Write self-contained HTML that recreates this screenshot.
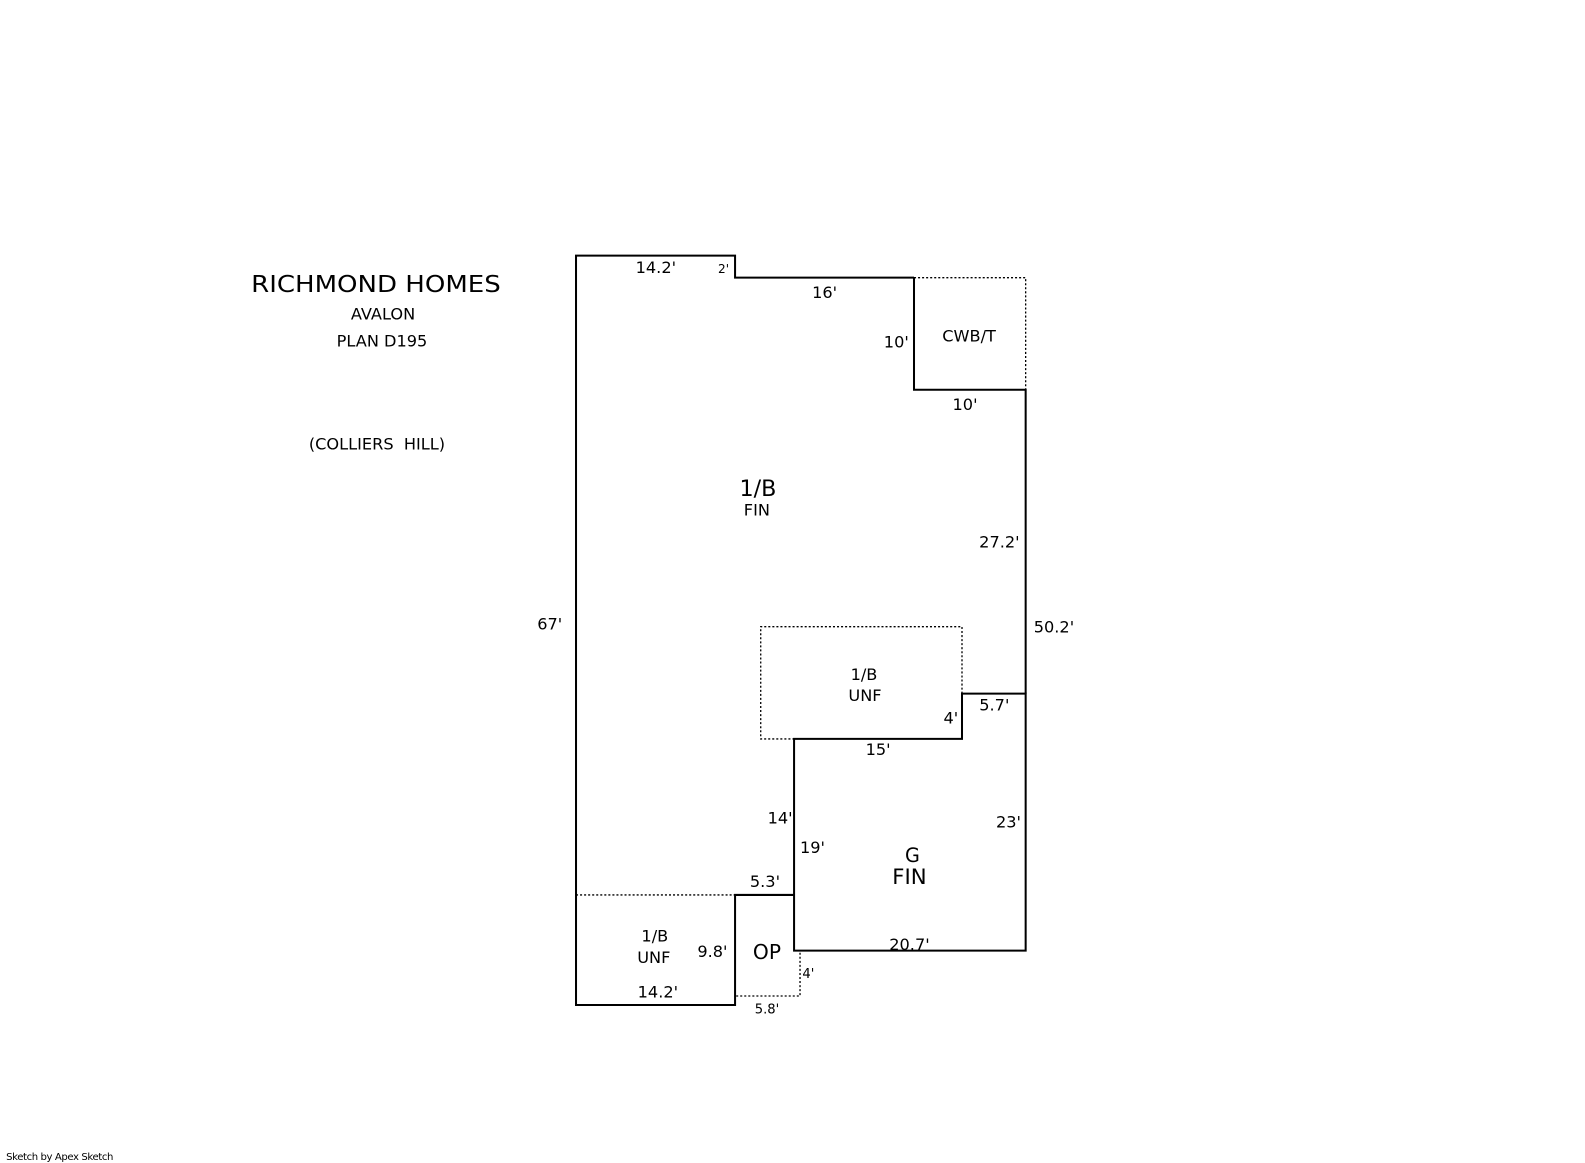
<!DOCTYPE html>
<html><head><meta charset="utf-8"><style>
html,body{margin:0;padding:0;background:#fff;}
svg{display:block;}
text{font-family:"DejaVu Sans","Liberation Sans",sans-serif;fill:#000;}
</style></head><body>
<svg width="1585" height="1163" viewBox="0 0 1568.5 1151" xmlns="http://www.w3.org/2000/svg">
<g fill="none" stroke="#000" stroke-width="2">
<polyline points="904.5,274.8 727.4,274.8 727.4,253 570,253 570,994.6 727.4,994.6 727.4,885.7 785.8,885.7 785.8,940.8 1015,940.8 1015,686.5 952,686.5 952,731.3 785.8,731.3 785.8,885.7"/>
<polyline points="904.5,274.8 904.5,385.7 1015,385.7 1015,686.5"/>
</g>
<g fill="none" stroke="#000" stroke-width="1.3" stroke-dasharray="2,2">
<polyline points="904.5,274.8 1015,274.8 1015,385.7"/>
<polyline points="952,686.5 952,620.2 752.8,620.2 752.8,731.3 785.8,731.3"/>
<line x1="570" y1="885.7" x2="727.4" y2="885.7"/>
<polyline points="785.8,940.8 791.7,940.8 791.7,985.7 727.4,985.7"/>
</g>
<text x="372" y="289" font-size="23" text-anchor="middle" textLength="247" lengthAdjust="spacingAndGlyphs">RICHMOND HOMES</text>
<text x="379" y="316" font-size="16" text-anchor="middle">AVALON</text>
<text x="378" y="343" font-size="16" text-anchor="middle">PLAN D195</text>
<text x="373" y="445" font-size="16" text-anchor="middle" xml:space="preserve">(COLLIERS  HILL)</text>
<g font-size="16" text-anchor="middle">
<text x="649" y="270">14.2'</text>
<text x="716" y="270" font-size="12">2'</text>
<text x="816" y="295">16'</text>
<text x="887" y="344">10'</text>
<text x="959" y="338">CWB/T</text>
<text x="955" y="406">10'</text>
<text x="750" y="491" font-size="22">1/B</text>
<text x="749" y="510">FIN</text>
<text x="989" y="542">27.2'</text>
<text x="544" y="623">67'</text>
<text x="1043" y="626">50.2'</text>
<text x="855" y="673">1/B</text>
<text x="856" y="694">UNF</text>
<text x="941" y="716">4'</text>
<text x="984" y="703">5.7'</text>
<text x="869" y="747">15'</text>
<text x="772" y="815">14'</text>
<text x="804" y="844">19'</text>
<text x="998" y="819">23'</text>
<text x="903" y="853" font-size="19">G</text>
<text x="900" y="875" font-size="21">FIN</text>
<text x="757" y="878">5.3'</text>
<text x="648" y="932">1/B</text>
<text x="647" y="953">UNF</text>
<text x="705" y="947">9.8'</text>
<text x="759" y="949" font-size="20">OP</text>
<text x="900" y="940">20.7'</text>
<text x="800" y="968" font-size="13">4'</text>
<text x="651" y="987">14.2'</text>
<text x="759" y="1003" font-size="13">5.8'</text>
</g>
<text x="6" y="1148" font-size="10" letter-spacing="-0.4">Sketch by Apex Sketch</text>
</svg>
</body></html>
